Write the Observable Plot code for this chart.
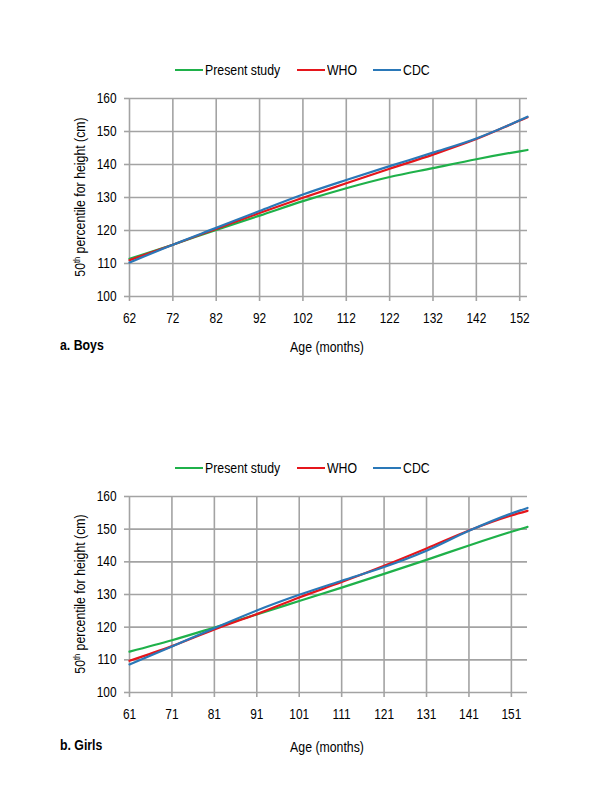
<!DOCTYPE html>
<html>
<head>
<meta charset="utf-8">
<script src="https://cdn.jsdelivr.net/npm/d3@7"></script>
<script src="https://cdn.jsdelivr.net/npm/@observablehq/plot@0.6"></script>
<style>
  html, body { margin: 0; padding: 0; background: #fff; }
  #page { position: relative; width: 600px; height: 800px; overflow: hidden; font-family: "Liberation Sans", Arial, sans-serif; color: #000; }
  .abs { position: absolute; white-space: nowrap; }
  .nar { display: inline-block; transform: scaleX(0.82); transform-origin: 0 50%; }
  .legend-item { position: absolute; white-space: nowrap; font-size: 15px; line-height: 15px; }
  .legend-item .sw { display: inline-block; width: 28px; height: 2px; vertical-align: middle; margin-right: 2px; position: relative; top: -1px; }
  .ytitle { position: absolute; white-space: nowrap; font-size: 15px; line-height: 15px; transform: translate(-50%, -50%) rotate(-90deg) scaleX(0.82); }
  .ytitle sup { font-size: 9px; vertical-align: 5px; line-height: 0; }
  .bold { font-weight: bold; font-size: 15px; line-height: 15px; }
  .xlab { font-size: 15px; line-height: 15px; transform: translateX(-50%) scaleX(0.82); }
</style>
</head>
<body>
<div id="page"></div>
<script>
// ---------- data ----------
const seriesNames = ["Present study", "WHO", "CDC"];
const seriesColors = ["#1fb14a", "#e5161c", "#2a78b8"];
const yTicks = [100, 110, 120, 130, 140, 150, 160];

// Boys
const boysTicks = [62, 72, 82, 92, 102, 112, 122, 132, 142, 152];
const boysAges = [62, 72, 82, 92, 102, 112, 122, 132, 142, 152, 153.8];
const boysPresent = [111.4, 115.7, 120.2, 124.5, 128.9, 132.8, 136.2, 138.9, 141.6, 144.0, 144.4];
const boysWHO     = [111.0, 115.7, 120.5, 125.3, 129.9, 134.3, 138.7, 143.0, 147.7, 153.3, 154.3];
const boysCDC     = [110.3, 115.7, 120.8, 125.9, 130.9, 135.3, 139.5, 143.6, 147.9, 153.4, 154.5];

// Girls
const girlsTicks = [61, 71, 81, 91, 101, 111, 121, 131, 141, 151];
const girlsAges = [61, 71, 81, 91, 101, 111, 121, 131, 141, 151, 154.8];
const girlsPresent = [112.5, 116.0, 119.9, 123.9, 128.0, 132.1, 136.3, 140.6, 145.0, 149.2, 150.7];
const girlsWHO     = [109.7, 114.2, 119.3, 124.0, 129.1, 133.8, 138.8, 144.1, 149.6, 154.2, 155.6];
const girlsCDC     = [108.6, 114.1, 119.7, 125.1, 129.9, 134.2, 138.4, 143.4, 149.5, 154.8, 156.5];

const FONT = '"Liberation Sans", Arial, sans-serif';
const GRID = "#a3a3a3";

function table(ages, a, b, c) {
  const rows = [];
  [a, b, c].forEach((vals, i) => vals.forEach((v, j) => rows.push({age: ages[j], value: v, series: seriesNames[i]})));
  return rows;
}

const page = document.getElementById("page");

function narrowSvgText(svg) {
  svg.querySelectorAll("text").forEach(t => {
    const w = t.getComputedTextLength();
    if (w > 0) {
      t.setAttribute("textLength", (w * 0.82).toFixed(2));
      t.setAttribute("lengthAdjust", "spacingAndGlyphs");
    }
  });
}

function panel({top, height, marginTop, ticks, domain, rows, legendY, titleY, bottomTop, panelLabel}) {
  const chart = Plot.plot({
    width: 600,
    height,
    marginLeft: 129,
    marginRight: 73,
    marginTop,
    marginBottom: 34,
    style: {fontFamily: FONT, fontSize: "14.5px", background: "transparent", color: "#000", overflow: "visible"},
    x: {domain, type: "linear"},
    y: {domain: [100, 160]},
    color: {domain: seriesNames, range: seriesColors},
    marks: [
      Plot.ruleY(yTicks, {stroke: GRID, strokeWidth: 1.6}),
      Plot.ruleX(ticks, {stroke: GRID, strokeWidth: 1.6}),
      Plot.axisX(ticks, {tickSize: 5, tickPadding: 11, stroke: GRID, strokeWidth: 1.6, fill: "#000", tickFormat: d => String(d), label: null}),
      Plot.axisY(yTicks, {tickSize: 5, tickPadding: 8, stroke: GRID, strokeWidth: 1.6, fill: "#000", label: null}),
      Plot.line(rows, {x: "age", y: "value", stroke: "series", z: "series", strokeWidth: 2.2, curve: "monotone-x"})
    ]
  });
  chart.style.position = "absolute";
  chart.style.left = "0px";
  chart.style.top = top + "px";
  page.appendChild(chart);
  narrowSvgText(chart);

  // legend
  const lefts = [175, 297, 373];
  seriesNames.forEach((name, i) => {
    const it = document.createElement("div");
    it.className = "legend-item";
    it.style.left = lefts[i] + "px";
    it.style.top = (legendY - 8) + "px";
    it.innerHTML = `<span class="sw" style="background:${seriesColors[i]}"></span><span class="nar">${name}</span>`;
    page.appendChild(it);
  });

  // y title
  const yt = document.createElement("div");
  yt.className = "ytitle";
  yt.style.left = "79px";
  yt.style.top = titleY + "px";
  yt.innerHTML = "50<sup>th</sup> percentile for height (cm)";
  page.appendChild(yt);

  // panel label
  const pl = document.createElement("div");
  pl.className = "abs bold";
  pl.style.left = "60px";
  pl.style.top = bottomTop + "px";
  pl.innerHTML = `<span class="nar">${panelLabel}</span>`;
  page.appendChild(pl);

  const xl = document.createElement("div");
  xl.className = "abs xlab";
  xl.style.left = "327px";
  xl.style.top = (bottomTop + 2) + "px";
  xl.textContent = "Age (months)";
  page.appendChild(xl);
}

panel({top: 80, height: 250, marginTop: 18, ticks: boysTicks, domain: [62, 153.8],
       rows: table(boysAges, boysPresent, boysWHO, boysCDC), legendY: 70, titleY: 197, bottomTop: 337, panelLabel: "a. Boys"});
panel({top: 478, height: 248, marginTop: 18, ticks: girlsTicks, domain: [61, 154.8],
       rows: table(girlsAges, girlsPresent, girlsWHO, girlsCDC), legendY: 468, titleY: 594, bottomTop: 737, panelLabel: "b. Girls"});
</script>
</body>
</html>
